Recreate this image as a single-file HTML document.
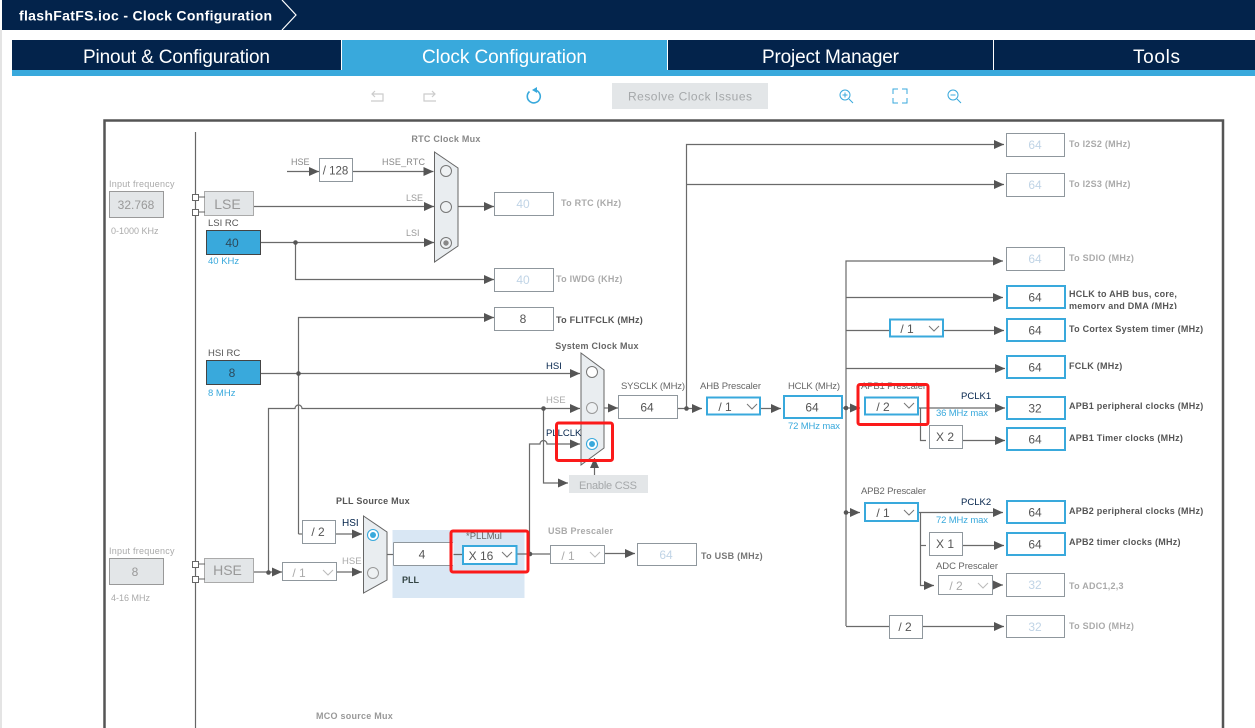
<!DOCTYPE html>
<html><head><meta charset="utf-8"><style>
html,body{margin:0;padding:0;background:#fff;width:1255px;height:728px;overflow:hidden}
svg{display:block}
#root{filter:blur(.3px)}
text{font-family:"Liberation Sans",sans-serif;font-size:9.5px;fill:#777}
.b{font-weight:bold}
.c{text-anchor:middle}
.v{font-size:12px;fill:#555;text-anchor:middle}
.p{font-size:12px;fill:#c0d4e6;text-anchor:middle}
.t{font-size:16px;fill:#777}
.l{font-weight:bold;fill:#777;font-size:9px;letter-spacing:.25px}
.d{font-weight:bold;fill:#555;font-size:9px;letter-spacing:.25px}
.g{font-weight:bold;fill:#aaa;font-size:9px;letter-spacing:.25px}
.k{fill:#03234b;font-size:10px}
.a{fill:#39a9dc;font-size:9.5px}
.w{fill:#fff;font-size:19px}
.n{fill:none;stroke:#6a6a6a;stroke-width:1.2}
.bx{fill:#fff;stroke:#8f979d;stroke-width:1}
.bl{fill:#fff;stroke:#39a9dc;stroke-width:2}
.ch{fill:none;stroke:#777;stroke-width:1}
.chg{fill:none;stroke:#bbb;stroke-width:1}
.mux{fill:#e9edf0;stroke:#666;stroke-width:1}
.r{fill:none;stroke:#fb1a1a;stroke-width:3}
.o{fill:#fff;stroke:#777;stroke-width:1}
.og{fill:#eef1f3;stroke:#999;stroke-width:1}
.ic{fill:none;stroke:#39a9dc;stroke-width:1}
</style></head><body>
<svg id="root" width="1255" height="728" viewBox="0 0 1255 728" xmlns="http://www.w3.org/2000/svg">
<defs><marker id="m" markerUnits="userSpaceOnUse" markerWidth="11" markerHeight="9" refX="10" refY="4.5" orient="auto"><path d="M0 0L10 4.5L0 9Z" fill="#555"/></marker></defs>

<rect x="0" y="30" width="2" height="698" fill="#e4e4e4"/>
<rect x="2" y="0" width="1253" height="30" fill="#03234b"/>
<path d="M282 0L296 15L282 30" fill="none" stroke="#fff" stroke-width="1.2"/>
<text x="19" y="20.500" style="font-size:14px;font-weight:bold;fill:#fff" textLength="253" lengthAdjust="spacing">flashFatFS.ioc - Clock Configuration</text>

<rect x="12" y="40" width="1243" height="30" fill="#03234b"/>
<rect x="341.500" y="40" width="326" height="30" fill="#39a9dc"/>
<rect x="12" y="70" width="1243" height="6" fill="#39a9dc"/>
<rect x="341" y="40" width="1" height="30" fill="#fff"/>
<rect x="667" y="40" width="1" height="30" fill="#fff"/>
<rect x="993" y="40" width="1" height="30" fill="#fff"/>
<text class="w" x="83" y="63" textLength="187">Pinout &amp; Configuration</text>
<text class="w" x="422" y="63" textLength="165">Clock Configuration</text>
<text class="w" x="762" y="63" textLength="137">Project Manager</text>
<text class="w" x="1133" y="63" textLength="47">Tools</text>

<path d="M372 94H383V101H371M375 91l-3 3 3 3" fill="none" stroke="#ccc" stroke-width="1.2"/>
<path d="M435 94H424V101H436M432 91l3 3-3 3" fill="none" stroke="#ccc" stroke-width="1.2"/>
<path d="M529.500 91.500A6.500 6.500 0 1 0 535 90" fill="none" stroke="#39a9dc" stroke-width="1.600"/><path d="M537 87v6l-5-3z" fill="#39a9dc"/>
<rect x="612" y="83" width="156" height="26" fill="#e3e6e8"/>
<text x="628" y="100.500" style="font-size:12px;fill:#a5a8aa" textLength="124">Resolve Clock Issues</text>
<circle class="ic" cx="845" cy="95" r="5"/><path class="ic" d="M849 99l4 4M842.500 95h5M845 92.500v5"/>
<path class="ic" d="M893 94v-5h5M902 89h5v5M907 98v5h-5M898 103h-5v-5"/>
<circle class="ic" cx="953" cy="95" r="5"/><path class="ic" d="M957 99l4 4M950.500 95h5"/>

<path d="M104.500 728V120.500H1223V728" fill="none" stroke="#555" stroke-width="2.500"/>
<path d="M195.500 132V728" stroke="#666" stroke-width="1.200"/>

<!-- left column -->
<text x="109" y="187" style="fill:#aaa;font-size:9px;letter-spacing:.25px">Input frequency</text>
<rect x="109.500" y="191.500" width="54" height="26" fill="#e3e6e8" stroke="#999"/>
<text class="c" x="136" y="209" style="font-size:12px;fill:#999">32.768</text>
<text x="111" y="234" style="fill:#aaa;font-size:9px">0-1000 KHz</text>
<rect x="204.500" y="191.500" width="49" height="24" fill="#e3e6e8" stroke="#aaa"/>
<text class="t c" x="227.500" y="209" style="font-size:14px;fill:#999">LSE</text>
<path d="M199 197h6M199 212h6" stroke="#666"/>
<rect x="192.500" y="194.500" width="6" height="6" fill="#fff" stroke="#666"/><rect x="192.500" y="209.500" width="6" height="6" fill="#fff" stroke="#666"/>
<text x="208" y="226" style="fill:#555">LSI RC</text>
<rect x="206.500" y="230.500" width="54" height="24" fill="#39a9dc" stroke="#444"/>
<text class="v" x="232" y="247" style="fill:#2c4a5c">40</text>
<text class="a" x="208" y="264">40 KHz</text>
<text x="208" y="356" style="fill:#555">HSI RC</text>
<rect x="206.500" y="360.500" width="54" height="24" fill="#39a9dc" stroke="#444"/>
<text class="v" x="232" y="377" style="fill:#2c4a5c">8</text>
<text class="a" x="208" y="396">8 MHz</text>
<text x="109" y="554" style="fill:#aaa;font-size:9px;letter-spacing:.25px">Input frequency</text>
<rect x="109.500" y="558.500" width="54" height="26" fill="#e3e6e8" stroke="#999"/>
<text class="c" x="135" y="576" style="font-size:12px;fill:#999">8</text>
<text x="111" y="601" style="fill:#aaa;font-size:9px">4-16 MHz</text>
<rect x="204.500" y="558.500" width="49" height="24" fill="#e3e6e8" stroke="#aaa"/>
<text class="c" x="227.500" y="575" style="font-size:14px;fill:#999">HSE</text>
<path d="M199 564h6M199 579h6" stroke="#666"/>
<rect x="192.500" y="561.500" width="6" height="6" fill="#fff" stroke="#666"/><rect x="192.500" y="576.500" width="6" height="6" fill="#fff" stroke="#666"/>

<!-- PLL block -->
<rect x="392.500" y="530" width="132" height="68" fill="#d9e7f4"/>

<!-- connectors -->
<path class="n" d="M287 171.500H319" marker-end="url(#m)"/>
<path class="n" d="M353 171.500H433.500" marker-end="url(#m)"/>
<path class="n" d="M254 206.500H434" marker-end="url(#m)"/>
<path class="n" d="M261 242.500H434" marker-end="url(#m)"/>
<path class="n" d="M295.500 242.500V279.500H494" marker-end="url(#m)"/>
<path class="n" d="M458 206.500H494" marker-end="url(#m)"/>
<path class="n" d="M298.500 534V317.500H494" marker-end="url(#m)"/>
<path class="n" d="M298.500 534H302"/>
<path class="n" d="M261 373.500H580" marker-end="url(#m)"/>
<path class="n" d="M268.500 572V408.500H295a3.500 3.500 0 0 1 7 0H580" marker-end="url(#m)"/>
<path class="n" d="M254 572H282" marker-end="url(#m)"/>
<path class="n" d="M337 572H362" marker-end="url(#m)"/>
<path class="n" d="M336 534H362" marker-end="url(#m)"/>
<path class="n" d="M387 554.500H393"/>
<path class="n" d="M453 554.500H463M517 554H550"/>
<path class="n" d="M605 553.500H635" marker-end="url(#m)"/>
<path class="n" d="M529.500 554V444H540a3.500 3.500 0 0 1 7 0H580" marker-end="url(#m)"/>
<path class="n" d="M543.500 408V483H568" marker-end="url(#m)"/>
<path class="n" d="M594.500 475V458" marker-end="url(#m)"/>
<path class="n" d="M604 408H618" marker-end="url(#m)"/>
<path class="n" d="M678 408.500H702" marker-end="url(#m)"/>
<path class="n" d="M686.500 408V144.500H1004" marker-end="url(#m)"/>
<path class="n" d="M686.500 184.500H1004" marker-end="url(#m)"/>
<path class="n" d="M760 408.500H781" marker-end="url(#m)"/>
<path class="n" d="M842 408H860" marker-end="url(#m)"/>
<path class="n" d="M846 626V261H1003" marker-end="url(#m)"/>
<path class="n" d="M846 297.500H1003" marker-end="url(#m)"/>
<path class="n" d="M846 330.500H889M943 330.500H1004" marker-end="url(#m)"/>
<path class="n" d="M846 368.500H1005" marker-end="url(#m)"/>
<path class="n" d="M918 408H1005" marker-end="url(#m)"/>
<path class="n" d="M920.500 408V440.500H926"/>
<path class="n" d="M963 440.500H1005" marker-end="url(#m)"/>
<path class="n" d="M846 512.500H860" marker-end="url(#m)"/>
<path class="n" d="M918 512.500H1003" marker-end="url(#m)"/>
<path class="n" d="M920.500 512V585.500H934" marker-end="url(#m)"/>
<path class="n" d="M920.500 545.500H926"/>
<path class="n" d="M963 545.500H1004" marker-end="url(#m)"/>
<path class="n" d="M992 585H1003" marker-end="url(#m)"/>
<path class="n" d="M846 626.500H889M923 626.500H1004" marker-end="url(#m)"/>
<g fill="#555"><circle cx="295.500" cy="242.500" r="2.300"/><circle cx="298.500" cy="373.500" r="2.300"/><circle cx="543.500" cy="408.500" r="2.300"/><circle cx="268.500" cy="572.500" r="2.300"/><circle cx="530" cy="554" r="2.300"/><circle cx="686.500" cy="408.500" r="2.300"/><circle cx="846" cy="408" r="2.300"/><circle cx="846" cy="512.500" r="2.300"/></g>

<!-- RTC -->
<text class="g c" x="446" y="142" style="fill:#888">RTC Clock Mux</text>
<text x="291" y="165" style="fill:#888;font-size:9px">HSE</text>
<rect class="bx" x="319.500" y="158.500" width="33" height="23"/><text class="v" x="335.500" y="174.500" style="font-size:11.500px;fill:#555">/ 128</text>
<text x="382" y="165" style="fill:#888;font-size:9px;letter-spacing:.2px">HSE_RTC</text>
<text x="406" y="201" style="fill:#999;font-size:9px">LSE</text>
<text x="406" y="236" style="fill:#999;font-size:9px">LSI</text>
<path class="mux" d="M434.500 152L458 168V246L434.500 262Z"/>
<circle class="o" cx="446" cy="171" r="5.500" style="fill:#eef1f3"/><circle class="o" cx="446" cy="207" r="5.500" style="fill:#eef1f3"/><circle class="o" cx="446" cy="243" r="5.500" style="fill:#eef1f3"/><circle cx="446" cy="243" r="2.700" fill="#888"/>

<rect class="bx" x="494.500" y="192.500" width="59" height="23"/><text class="p" x="523" y="208">40</text>
<text class="g" x="561" y="206">To RTC (KHz)</text>
<rect class="bx" x="494.500" y="268.500" width="59" height="23"/><text class="p" x="523" y="284">40</text>
<text class="g" x="556" y="282">To IWDG (KHz)</text>
<rect class="bx" x="494.500" y="307.500" width="59" height="23"/><text class="v" x="523" y="323">8</text>
<text class="d" x="556" y="323">To FLITFCLK (MHz)</text>

<!-- sys mux -->
<text class="d c" x="597" y="349" style="fill:#666">System Clock Mux</text>
<text class="k" x="546" y="369" style="font-size:9.500px">HSI</text>
<text x="546" y="403" style="fill:#aaa;font-size:9.500px">HSE</text>
<path class="mux" d="M581 353L604 370V448L581 465Z"/>
<circle class="o" cx="592" cy="372" r="5.500"/><circle class="og" cx="592" cy="408" r="5.500"/>
<circle cx="592" cy="444" r="5.500" fill="#fff" stroke="#39a9dc" stroke-width="1.100"/><circle cx="592" cy="444" r="3" fill="#39a9dc"/>
<text class="k" x="546" y="436" style="font-size:9.500px">PLLCLK</text>
<rect x="569" y="475" width="79" height="18" fill="#e3e6e8"/><text x="579" y="489" style="font-size:11px;fill:#a5a8aa" textLength="58">Enable CSS</text>

<rect class="bx" x="618.500" y="395.500" width="59" height="23"/><text class="v" x="647" y="411.500">64</text>
<text x="621" y="389" style="fill:#666;font-size:9.500px" textLength="64">SYSCLK (MHz)</text>
<text x="700" y="389" style="fill:#666;font-size:9.500px" textLength="61">AHB Prescaler</text>
<rect class="bl" x="707" y="397.500" width="53" height="17"/><text class="v" x="725" y="411">/ 1</text><path class="ch" d="M747 404l5 5 5-5"/>
<rect class="bl" x="784" y="396" width="58" height="22"/><text class="v" x="812" y="411.500">64</text>
<text x="788" y="389" style="fill:#666;font-size:9.500px" textLength="52">HCLK (MHz)</text>
<text class="a" x="788" y="429" textLength="52">72 MHz max</text>

<!-- PLL -->
<text class="d" x="336" y="504" style="fill:#555">PLL Source Mux</text>
<text class="k" x="342" y="526">HSI</text>
<text x="342" y="564" style="fill:#aaa">HSE</text>
<rect class="bx" x="302.500" y="520.500" width="33" height="23"/><text class="v" x="318" y="536">/ 2</text>
<rect class="bx" x="282.500" y="562.500" width="54" height="18"/><text class="v" x="299" y="577" style="fill:#aaa">/ 1</text><path class="chg" d="M323 570l5 5 5-5"/>
<path class="mux" d="M363.500 516L387 532V580L363.500 593Z"/>
<circle cx="373" cy="535" r="5.500" fill="#fff" stroke="#39a9dc" stroke-width="1.100"/><circle cx="373" cy="535" r="3" fill="#39a9dc"/>
<circle class="og" cx="373" cy="573" r="5.500"/>
<rect x="393.500" y="543" width="60" height="22" fill="#fff"/>
<path d="M393.500 542.500H453M393.500 565.500H453M393.500 542.500V565.500" stroke="#8f979d" fill="none"/>
<text class="v" x="422" y="558.500">4</text>
<text class="k" x="402" y="583" style="fill:#344;font-weight:bold;font-size:9px">PLL</text>
<text x="466" y="539" style="fill:#666;font-size:9.500px">*PLLMul</text>
<rect class="bl" x="463" y="546" width="53.500" height="18"/><text class="v" x="481" y="560">X 16</text><path class="ch" d="M502 552l5 5 5-5"/>
<text class="g" x="548" y="534">USB Prescaler</text>
<rect class="bx" x="550.500" y="545.500" width="54" height="18"/><text class="v" x="568" y="560" style="fill:#aaa">/ 1</text><path class="chg" d="M590 552l5 5 5-5"/>
<rect class="bx" x="637.500" y="543.500" width="59" height="22"/><text class="p" x="666" y="559">64</text>
<text class="d" x="701" y="559" style="fill:#777">To USB (MHz)</text>
<text class="g" x="316" y="719" style="fill:#999">MCO source Mux</text>

<!-- right -->
<rect class="bx" x="1006.500" y="133.500" width="58" height="23"/><text class="p" x="1035" y="149">64</text>
<rect class="bx" x="1006.500" y="173.500" width="58" height="23"/><text class="p" x="1035" y="189">64</text>
<rect class="bx" x="1006.500" y="247.500" width="58" height="23"/><text class="p" x="1035" y="263">64</text>
<text class="g" x="1069" y="147">To I2S2 (MHz)</text>
<text class="g" x="1069" y="187">To I2S3 (MHz)</text>
<text class="g" x="1069" y="261">To SDIO (MHz)</text>
<g>
<rect class="bl" x="1007" y="286" width="58" height="22"/><text class="v" x="1035" y="301.500">64</text>
<rect class="bl" x="1007" y="319" width="58" height="22"/><text class="v" x="1035" y="334.500">64</text>
<rect class="bl" x="1007" y="356" width="58" height="22"/><text class="v" x="1035" y="371.500">64</text>
<rect class="bl" x="1007" y="397" width="58" height="22"/><text class="v" x="1035" y="412.500">32</text>
<rect class="bl" x="1007" y="428" width="58" height="22"/><text class="v" x="1035" y="443.500">64</text>
<rect class="bl" x="1007" y="501" width="58" height="22"/><text class="v" x="1035" y="516.500">64</text>
<rect class="bl" x="1007" y="533" width="58" height="22"/><text class="v" x="1035" y="548.500">64</text>
</g>
<text class="d" x="1069" y="297">HCLK to AHB bus, core,</text>
<svg x="1060" y="300" width="140" height="9"><text class="d" x="9" y="9">memory and DMA (MHz)</text></svg>
<text class="d" x="1069" y="332">To Cortex System timer (MHz)</text>
<text class="d" x="1069" y="369">FCLK (MHz)</text>
<text class="d" x="1069" y="409">APB1 peripheral clocks (MHz)</text>
<text class="d" x="1069" y="441">APB1 Timer clocks (MHz)</text>
<text class="d" x="1069" y="514">APB2 peripheral clocks (MHz)</text>
<text class="d" x="1069" y="545">APB2 timer clocks (MHz)</text>
<rect class="bx" x="1006.500" y="573.500" width="58" height="23"/><text class="p" x="1035" y="589">32</text>
<text class="g" x="1069" y="589">To ADC1,2,3</text>
<rect class="bx" x="1006.500" y="615.500" width="58" height="22"/><text class="p" x="1035" y="631">32</text>
<text class="g" x="1069" y="629">To SDIO (MHz)</text>

<rect class="bl" x="890" y="319.500" width="53" height="17"/><text class="v" x="907" y="333">/ 1</text><path class="ch" d="M929 326l5 5 5-5"/>
<text x="861" y="389" style="fill:#666;font-size:9.500px" textLength="65">APB1 Prescaler</text>
<rect class="bl" x="865" y="397.500" width="53" height="17"/><text class="v" x="883" y="411">/ 2</text><path class="ch" d="M904 403l5 5 5-5"/>
<text class="k" x="961" y="399" style="font-size:9.500px">PCLK1</text>
<text class="a" x="936" y="416" textLength="52">36 MHz max</text>
<rect class="bx" x="929.500" y="425.500" width="33" height="23"/><text class="v" x="945" y="441">X 2</text>
<text x="861" y="494" style="fill:#666;font-size:9.500px" textLength="65">APB2 Prescaler</text>
<rect class="bl" x="865" y="503" width="53" height="18"/><text class="v" x="883" y="517">/ 1</text><path class="ch" d="M904 510l5 5 5-5"/>
<text class="k" x="961" y="505" style="font-size:9.500px">PCLK2</text>
<text class="a" x="936" y="523" textLength="52">72 MHz max</text>
<rect class="bx" x="929.500" y="532.500" width="33" height="23"/><text class="v" x="945" y="548">X 1</text>
<text x="936" y="569" style="fill:#666;font-size:9.500px" textLength="62">ADC Prescaler</text>
<rect class="bx" x="938.500" y="575.500" width="54" height="19"/><text class="v" x="956" y="590" style="fill:#aaa">/ 2</text><path class="chg" d="M978 583l5 5 5-5"/>
<rect class="bx" x="889.500" y="615.500" width="33" height="23"/><text class="v" x="905" y="631">/ 2</text>

<!-- red highlights -->
<rect class="r" x="556.500" y="423" width="56" height="37.500" rx="2"/>
<rect class="r" x="451" y="531" width="77" height="41" rx="2"/>
<rect class="r" x="858" y="384.500" width="70" height="40" rx="2"/>
</svg>
</body></html>
